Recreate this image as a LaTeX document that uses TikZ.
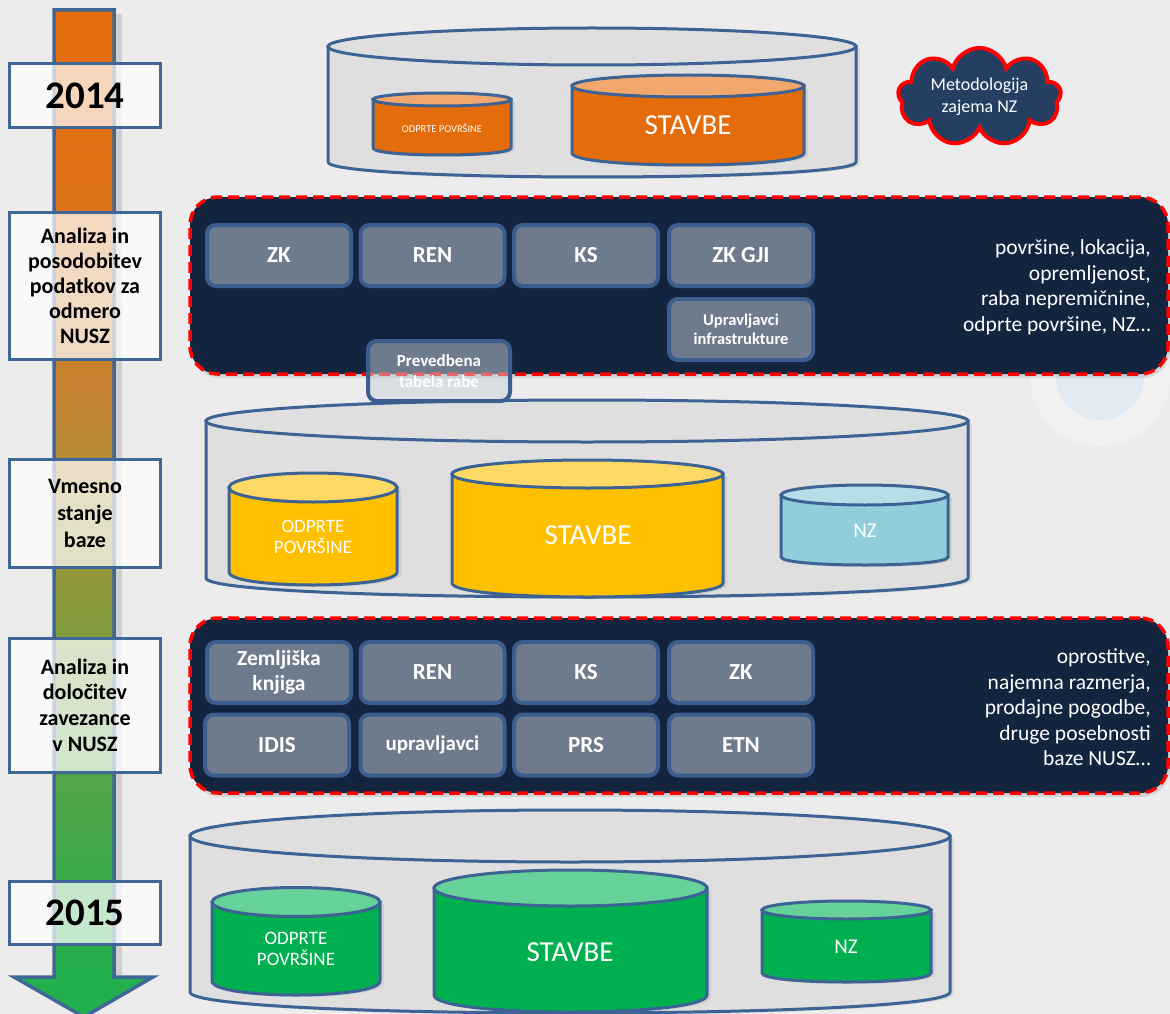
\documentclass[tikz,border=0pt]{standalone}
\usepackage{fontspec}
\setmainfont{Carlito}
\usetikzlibrary{shapes.symbols,shadows}
\definecolor{bgc}{RGB}{236,236,236}
\definecolor{bline}{RGB}{60,99,148}
\definecolor{tlline}{RGB}{63,103,151}
\definecolor{navy}{RGB}{19,36,63}
\definecolor{boxf}{RGB}{110,123,140}
\definecolor{boxb}{RGB}{59,94,142}
\definecolor{outerc}{RGB}{223,223,224}
\definecolor{orb}{RGB}{228,108,10}
\definecolor{ort}{RGB}{240,168,110}
\definecolor{yeb}{RGB}{255,192,0}
\definecolor{yet}{RGB}{255,217,102}
\definecolor{lbb}{RGB}{146,205,220}
\definecolor{lbt}{RGB}{183,222,232}
\definecolor{grb}{RGB}{0,176,80}
\definecolor{grt}{RGB}{103,209,154}
\definecolor{cloudc}{RGB}{36,63,98}
\definecolor{prevf}{RGB}{200,210,218}
\definecolor{faintb}{RGB}{222,233,241}
\definecolor{tlO}{RGB}{228,108,10}
\definecolor{tlA}{RGB}{222,114,25}
\definecolor{tlB}{RGB}{195,130,47}
\definecolor{tlC}{RGB}{140,154,60}
\definecolor{tlD}{RGB}{77,166,74}
\definecolor{tlG}{RGB}{34,176,76}
\pgfdeclareverticalshading{tlshade}{100bp}{color(0bp)=(tlG); color(25bp)=(tlG); color(26.9bp)=(tlG); color(35.7bp)=(tlD); color(45.7bp)=(tlC); color(55.6bp)=(tlB); color(65.6bp)=(tlA); color(75bp)=(tlO); color(100bp)=(tlO)}
\tikzset{
  cyl/.style={draw=bline, line width=3pt},
  cylshadow/.style={drop shadow={opacity=0.15, shadow xshift=4pt, shadow yshift=-2pt}},
  tlbox/.style={draw=tlline, line width=3pt, fill=white, fill opacity=0.72, text opacity=1,
    inner sep=0pt, align=center, font=\bfseries\fontsize{22}{25}\selectfont},
  panel/.style={fill=navy, draw=red, line width=3.5pt, dash pattern=on 11pt off 6pt,
    rounded corners=28pt, inner sep=0pt,
    drop shadow={opacity=0.22, shadow xshift=2pt, shadow yshift=-4pt}},
  gbox/.style={fill=boxf, draw=boxb, line width=4pt, rounded corners=9pt, inner sep=0pt,
    minimum width=144pt, minimum height=61pt, text=white, align=center,
    font=\bfseries\fontsize{23}{26}\selectfont},
  sidetxt/.style={anchor=east, align=right, text=white, inner sep=0pt,
    font=\fontsize{21.5}{25.5}\selectfont},
  cyltxt/.style={text=white, align=center, inner sep=0pt}
}
\newcommand{\mycyl}[8]{%
  \pgfmathsetmacro{\cylcx}{(#1+#2)/2}%
  \pgfmathsetmacro{\cylrx}{(#2-#1)/2}%
  \pgfmathsetmacro{\cylcb}{#5+1.3333*#6}%
  \filldraw[cyl, cylshadow, fill=#7] (#1,#3) -- (#1,#5) .. controls (#1,\cylcb) and (#2,\cylcb) .. (#2,#5) -- (#2,#3) -- cycle;
  \filldraw[cyl, fill=#8] (\cylcx,#3) ellipse [x radius=\cylrx, y radius=#4];
}
\begin{document}
\begin{tikzpicture}[x=1pt,y=-1pt]
\useasboundingbox (0,0) rectangle (1170,1014);
\clip (0,0) rectangle (1170,1014);
\fill[bgc] (0,0) rectangle (1170,1014);
% faint background decoration
\fill[white, opacity=0.3] (1100,376) circle[radius=70];
\fill[faintb, opacity=0.8] (1100,376) circle[radius=44];

% timeline arrow
\fill[black, opacity=0.12] (116,14) rectangle (122,975);
\shadedraw[shading=tlshade, draw=tlline, line width=3.5pt, line join=miter]
  (54,10) -- (54,977) -- (14,977) -- (84,1017) -- (153,977) -- (114,977) -- (114,10) -- cycle;

\node[tlbox, minimum width=151pt, minimum height=64pt, font=\bfseries\fontsize{39}{40}\selectfont] (y2014) at (85,95.5) {2014};
\node[tlbox, minimum width=151pt, minimum height=147pt] (an1) at (85,286) {Analiza in\\posodobitev\\podatkov za\\odmero\\NUSZ};
\node[tlbox, minimum width=151pt, minimum height=108pt, font=\bfseries\fontsize{22}{27}\selectfont] (vm) at (85,513) {Vmesno\\stanje\\baze};
\node[tlbox, minimum width=151pt, minimum height=134pt, font=\bfseries\fontsize{22}{25.7}\selectfont] (an2) at (85,705) {Analiza in\\določitev\\zavezance\\v NUSZ};
\node[tlbox, minimum width=151pt, minimum height=63pt, font=\bfseries\fontsize{39}{40}\selectfont] (y2015) at (85,912.5) {2015};

% top database (2014)
\mycyl{328}{856}{46.5}{18.5}{162}{15}{outerc}{outerc}
\mycyl{373}{511}{99.5}{6.5}{148}{7}{orb}{ort}
\mycyl{572}{804}{86}{11}{153}{12}{orb}{ort}
\node[cyltxt, font=\fontsize{10.5}{12}\selectfont] (t1op) at (442,128) {ODPRTE POVRŠINE};
\node[cyltxt, font=\fontsize{29}{32}\selectfont] (t1st) at (688,125) {STAVBE};

\node[cloud, cloud puffs=9, aspect=2.1, fill=cloudc, draw=red, line width=4pt,
  minimum width=163pt, minimum height=78pt, inner sep=0pt, text=white, align=center,
  font=\fontsize{18}{22}\selectfont] (cl) at (979.5,97) {Metodologija\\zajema NZ};

% panel 1
\node[panel, minimum width=978pt, minimum height=177pt] (p1) at (679,285.5) {};
\node[gbox] (zk1) at (279,255.5) {ZK};
\node[gbox] (ren1) at (432.5,255.5) {REN};
\node[gbox] (ks1) at (586,255.5) {KS};
\node[gbox] (gji) at (741,255.5) {ZK GJI};
\node[gbox, font=\bfseries\fontsize{16.5}{19}\selectfont] (upr) at (741,329.5) {Upravljavci\\infrastrukture};
\node[sidetxt] (s1) at (1151,287.5) {površine, lokacija,\\opremljenost,\\raba nepremičnine,\\odprte površine, NZ…};

% middle database
\mycyl{206}{968}{421}{21}{578}{19}{outerc}{outerc}
\mycyl{229}{397}{487.5}{14.5}{572}{13}{yeb}{yet}
\mycyl{452}{723}{474}{14}{583}{14}{yeb}{yet}
\mycyl{781}{948}{495}{10}{557}{8}{lbb}{lbt}
\node[cyltxt, font=\fontsize{19}{21.5}\selectfont] (t2op) at (313,537) {ODPRTE\\POVRŠINE};
\node[cyltxt, font=\fontsize{29}{32}\selectfont] (t2st) at (588,535) {STAVBE};
\node[cyltxt, font=\fontsize{21}{24}\selectfont] (t2nz) at (865,531) {NZ};

% Prevedbena box
\node[gbox, fill=prevf, fill opacity=0.5, text opacity=1, draw opacity=1, minimum width=142pt, minimum height=60pt,
  font=\bfseries\fontsize{17}{20.5}\selectfont] (prev) at (439,371) {Prevedbena\\tabela rabe};

% panel 2
\node[panel, minimum width=978pt, minimum height=175pt] (p2) at (679,705.5) {};
\node[gbox, font=\bfseries\fontsize{21.5}{25}\selectfont] (zemk) at (279,672.5) {Zemljiška\\knjiga};
\node[gbox] (ren2) at (432.5,672.5) {REN};
\node[gbox] (ks2) at (586,672.5) {KS};
\node[gbox] (zk2) at (741,672.5) {ZK};
\node[gbox] (idis) at (277,745) {IDIS};
\node[gbox, font=\bfseries\fontsize{21}{24}\selectfont] (upr2) at (432.5,745) {upravljavci};
\node[gbox] (prs) at (586,745) {PRS};
\node[gbox] (etn) at (741,745) {ETN};
\node[sidetxt] (s2) at (1151,707.5) {oprostitve,\\najemna razmerja,\\prodajne pogodbe,\\druge posebnosti\\baze NUSZ…};

% bottom database (2015)
\mycyl{190}{950}{836}{26}{992}{21}{outerc}{outerc}
\mycyl{212}{380}{902}{14.5}{981}{14}{grb}{grt}
\mycyl{434}{707}{888}{18}{995}{17}{grb}{grt}
\mycyl{762}{931}{910}{9}{973}{9}{grb}{grt}
\node[cyltxt, font=\fontsize{19}{21.5}\selectfont] (t3op) at (296,949) {ODPRTE\\POVRŠINE};
\node[cyltxt, font=\fontsize{29}{32}\selectfont] (t3st) at (570,952) {STAVBE};
\node[cyltxt, font=\fontsize{21}{24}\selectfont] (t3nz) at (846,947) {NZ};
\end{tikzpicture}
\end{document}
